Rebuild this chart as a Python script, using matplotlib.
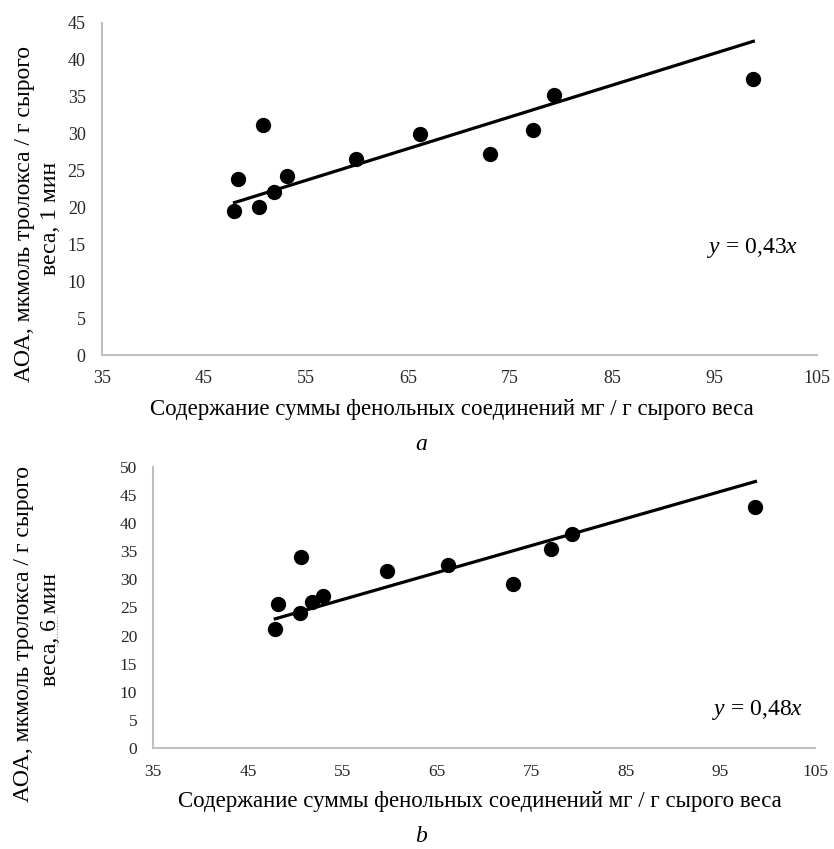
import matplotlib
matplotlib.use("Agg")
import matplotlib.pyplot as plt
from matplotlib.lines import Line2D
import numpy as np

plt.rcParams['font.family'] = ['Liberation Serif', 'DejaVu Serif']
plt.rcParams['mathtext.fontset'] = 'custom'
plt.rcParams['mathtext.rm'] = 'Liberation Serif'
plt.rcParams['mathtext.it'] = 'Liberation Serif:italic'

# Panel a (1 min)
x_a = [48.0, 48.3, 50.8, 50.4, 51.9, 53.1, 59.9, 66.2, 73.0, 77.2, 79.3, 98.8]
y_a = [19.5, 23.8, 31.1, 20.1, 22.1, 24.2, 26.5, 29.9, 27.2, 30.5, 35.2, 37.4]
slope_a = 0.43
# Panel b (6 min)
x_b = [47.9, 48.2, 50.6, 50.5, 51.8, 53.0, 59.7, 66.2, 73.0, 77.1, 79.3, 98.7]
y_b = [21.1, 25.6, 34.0, 24.1, 26.0, 27.1, 31.5, 32.6, 29.2, 35.3, 38.0, 42.8]
slope_b = 0.48

xticks = [35, 45, 55, 65, 75, 85, 95, 105]
yticks_a = [0, 5, 10, 15, 20, 25, 30, 35, 40, 45]
yticks_b = [0, 5, 10, 15, 20, 25, 30, 35, 40, 45, 50]

xlabel = "Содержание суммы фенольных соединений мг / г сырого веса"
ylabel_a = ["АОА, мкмоль тролокса / г сырого", "веса, 1 мин"]
ylabel_b = ["АОА, мкмоль тролокса / г сырого", "веса, 6 мин"]

W, H = 834, 849
fig = plt.figure(figsize=(W / 100, H / 100), dpi=100)

def px_rect(l, t, r, b):
    return [l / W, 1 - b / H, (r - l) / W, (b - t) / H]

def style(ax, yt, ymax, fs):
    ax.set_xlim(35, 105)
    ax.set_ylim(0, ymax)
    ax.set_xticks(xticks)
    ax.set_yticks(yt)
    for s in ['top', 'right']:
        ax.spines[s].set_visible(False)
    for s in ['left', 'bottom']:
        ax.spines[s].set_color('#bfbfbf')
        ax.spines[s].set_linewidth(1.5)
    ax.tick_params(length=0, labelsize=fs, colors='#262626')
    ax.tick_params(axis='y', pad=11.5)
    ax.tick_params(axis='x', pad=11)
    ax.patch.set_alpha(0)

ax1 = fig.add_axes(px_rect(101.7, 22.7, 816.7, 355))
style(ax1, yticks_a, 45, 13)
xs = np.array([min(x_a), max(x_a)])
ax1.plot(xs, slope_a * xs, color='black', lw=2.3, zorder=2)
ax1.plot(x_a, y_a, 'o', color='black', ms=10, zorder=3, clip_on=False)
ax1.text(94.3, 14.5, r'$y$ = 0,43$x$', fontsize=17, ha='left', va='center')

ax2 = fig.add_axes(px_rect(153.3, 466.7, 815, 748.3))
style(ax2, yticks_b, 50, 12.5)
xs = np.array([min(x_b), max(x_b)])
ax2.plot(xs, slope_b * xs, color='black', lw=2.3, zorder=2)
ax2.plot(x_b, y_b, 'o', color='black', ms=10, zorder=3, clip_on=False)
ax2.text(94.1, 6.8, r'$y$ = 0,48$x$', fontsize=17, ha='left', va='center')

# axis labels (figure coords)
fig.text(452 / W, 1 - 410 / H, xlabel, fontsize=16.5, ha='center', va='center')
fig.text(421 / W, 1 - 445 / H, 'a', fontsize=17, style='italic', ha='center', va='center')
fig.text(480 / W, 1 - 802 / H, xlabel, fontsize=16.5, ha='center', va='center')
fig.text(421 / W, 1 - 837 / H, 'b', fontsize=17, style='italic', ha='center', va='center')

fig.text(25 / W, 1 - 214 / H, ylabel_a[0], fontsize=17, rotation=90, ha='center', va='center')
fig.text(50 / W, 1 - 218 / H, ylabel_a[1], fontsize=17, rotation=90, ha='center', va='center')
fig.text(24 / W, 1 - 634 / H, ylabel_b[0], fontsize=17, rotation=90, ha='center', va='center')
fig.text(50 / W, 1 - 629 / H, ylabel_b[1], fontsize=17, rotation=90, ha='center', va='center')

# faint dotted spell-check underline seen in the reference (under "6")
fig.add_artist(Line2D([57 / W, 57 / W], [1 - 646 / H, 1 - 615 / H], color='#888888',
                      lw=0.8, ls=(0, (1, 1.5)), transform=fig.transFigure))

fig.savefig('out.png', dpi=100)
